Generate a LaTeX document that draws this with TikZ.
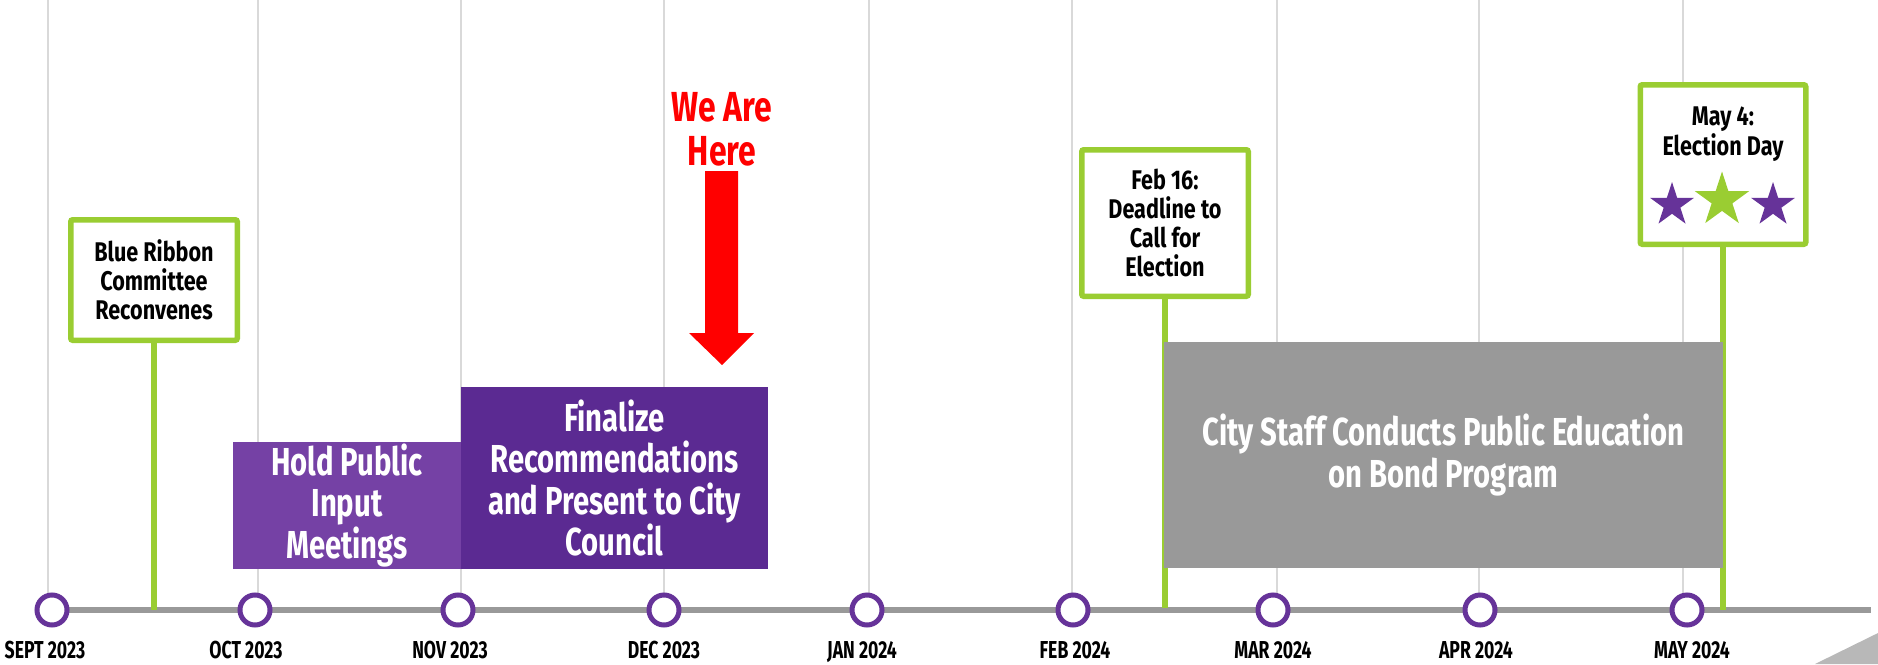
\documentclass[tikz,border=0pt]{standalone}
\usepackage{fontspec}
\setmainfont[FakeStretch=0.72]{Fira Sans}
\newfontfamily\signfont[FakeStretch=0.8]{Fira Sans}
\newfontfamily\phasefont[FakeStretch=0.75]{Fira Sans}
\newfontfamily\herefont[FakeStretch=0.76]{Fira Sans}
\usetikzlibrary{shapes.geometric}
\definecolor{lgreen}{HTML}{9ACD32}
\definecolor{ringpurple}{HTML}{663399}
\definecolor{holdpurple}{HTML}{7541A5}
\definecolor{finpurple}{HTML}{5B2A92}
\definecolor{midgray}{HTML}{999999}
\definecolor{gridgray}{HTML}{D9D9D9}
\definecolor{trigray}{HTML}{B8B8B8}
\definecolor{hered}{HTML}{FF0000}
\tikzset{
  gridline/.style={gridgray, line width=2pt},
  axis/.style={midgray, line width=6pt},
  monthring/.style={circle, draw=ringpurple, fill=white, line width=5pt, minimum size=30pt, inner sep=0pt},
  monthlabel/.style={anchor=base, inner sep=0pt, font=\fontsize{24.5}{26}\selectfont\bfseries},
  signbox/.style={draw=lgreen, fill=white, line width=5.5pt, rounded corners=2pt, inner sep=0pt, align=center, font=\signfont\fontsize{27}{29}\selectfont\bfseries},
  stem/.style={lgreen, line width=6pt},
  phasebox/.style={inner sep=0pt, align=center, text=white, font=\phasefont\fontsize{39}{41.5}\selectfont\bfseries},
  estar/.style={star, star points=5, star point ratio=2.618, inner sep=0pt, draw=none},
}
\begin{document}
\begin{tikzpicture}[x=1pt,y=-1pt]
\useasboundingbox (0,0) rectangle (1878,664);
% grid lines
\foreach \gx in {48,258,461,664,869,1072,1277,1479,1683}
  \draw[gridline] (\gx,0) -- (\gx,608);
% corner triangle
\fill[trigray] (1815,664) -- (1878,633) -- (1878,664) -- cycle;
% axis
\coordinate (axstart) at (52,610);
\coordinate (axend) at (1871,610);
\draw[axis] (axstart) -- (axend);
% green stems (behind boxes)
\coordinate (s1) at (154,610);
\coordinate (s2) at (1165,608);
\coordinate (s3) at (1723,610);
% sign boxes
\node[signbox, minimum width=166.5pt, minimum height=120.5pt] (blue) at (154,280) {Blue Ribbon\\Committee\\Reconvenes};
\node[signbox, minimum width=166.5pt, minimum height=146.5pt] (feb) at (1165,223) {Feb 16:\\Deadline to\\Call for\\Election};
\node[signbox, minimum width=165.5pt, minimum height=159.5pt] (may) at (1723,164.5) {};
\draw[stem] (blue.south) -- (s1);
\draw[stem] (feb.south) -- (s2);
\draw[stem] (may.south) -- (s3);
\node[anchor=north, inner sep=0pt, align=center, font=\signfont\fontsize{27}{30}\selectfont\bfseries] (maytext) at (1723,107) {May 4:\\Election Day};
\node[estar, fill=ringpurple, minimum size=46pt] (st1) at (1672,205) {};
\node[estar, fill=lgreen, minimum size=57pt] (st2) at (1722,200) {};
\node[estar, fill=ringpurple, minimum size=46pt] (st3) at (1773,205) {};
% phase boxes
\node[phasebox, fill=holdpurple, minimum width=228pt, minimum height=127pt] (hold) at (347,505.5) {Hold Public\\Input\\Meetings};
\node[phasebox, fill=finpurple, minimum width=307pt, minimum height=182pt] (final) at (614.5,478) {Finalize\\Recommendations\\and Present to City\\Council};
\node[phasebox, fill=midgray, minimum width=559pt, minimum height=226pt] (city) at (1443.5,455) {City Staff Conducts Public Education\\on Bond Program};
% we are here
\node[anchor=north, inner sep=0pt, align=center, text=hered, font=\herefont\fontsize{42}{44}\selectfont\bfseries] (here) at (722,92) {We Are\\Here};
\fill[hered] (705,171) -- (738,171) -- (738,333) -- (754,333) -- (722,365) -- (689,333) -- (705,333) -- cycle;
% month rings and labels
\foreach \mx/\lx/\name/\txt in {52/45/m1/SEPT 2023, 255/246/m2/OCT 2023, 458/450/m3/NOV 2023, 664/664/m4/DEC 2023, 867/862/m5/JAN 2024, 1073/1075/m6/FEB 2024, 1273/1273/m7/MAR 2024, 1480/1476/m8/APR 2024, 1687/1692/m9/MAY 2024}{
  \node[monthring] (\name) at (\mx,610) {};
  \node[monthlabel] (\name l) at (\lx,658) {\txt};
}
\end{tikzpicture}
\end{document}
